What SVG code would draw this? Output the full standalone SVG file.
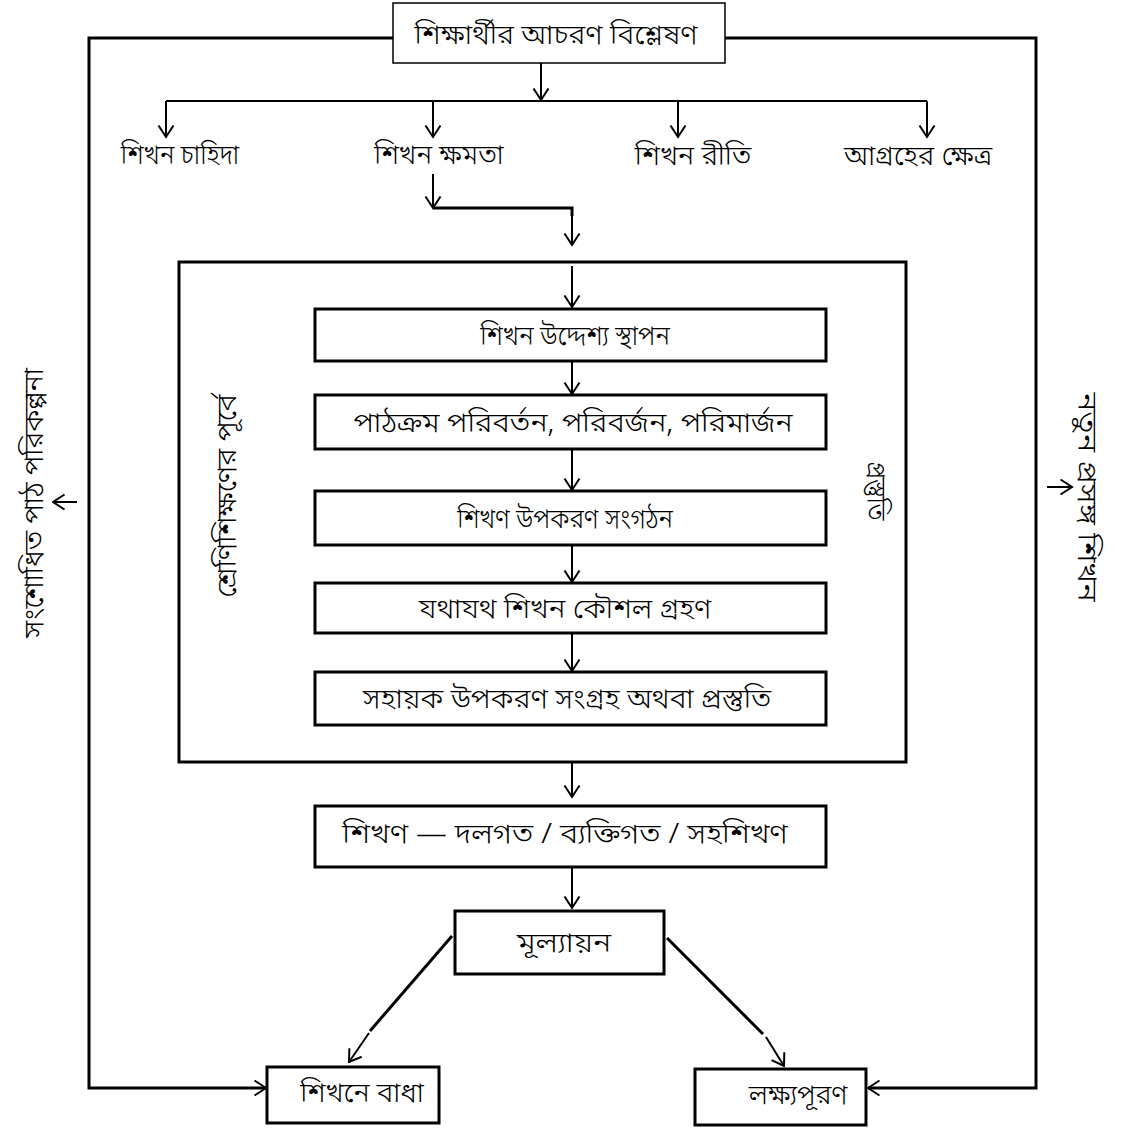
<svg xmlns="http://www.w3.org/2000/svg" width="1121" height="1128" viewBox="0 0 1121 1128">
<style>
text{font-family:"Noto Sans Bengali","Noto Serif Bengali","Lohit Bengali","FreeSans","Noto Sans",sans-serif;font-size:27px;font-weight:300;fill:#000;text-anchor:middle;dominant-baseline:central}
.lbl{font-size:28px}
.box{fill:#fff;stroke:#000;stroke-width:3}
.frame{fill:none;stroke:#000;stroke-width:3}
.thin{fill:#fff;stroke:#000;stroke-width:1.5}
.ln{fill:none;stroke:#000;stroke-width:2}
.lt{fill:none;stroke:#000;stroke-width:3}
</style>
<defs>
<marker id="ah" viewBox="0 0 14 18" refX="12.5" refY="9" markerWidth="14" markerHeight="18" markerUnits="userSpaceOnUse" orient="auto">
<path d="M1,1.5 L12.5,9 L1,16.5" fill="none" stroke="#000" stroke-width="2"/>
</marker>
</defs>
<rect width="1121" height="1128" fill="#fff"/>
<g id="connectors">
<path class="lt" d="M393,38 H89 V1088 H266" marker-end="url(#ah)"/>
<path class="lt" d="M725,38 H1036 V1088 H868" marker-end="url(#ah)"/>
<path class="ln" d="M541,63 V100" marker-end="url(#ah)"/>
<path class="ln" d="M166,101 H927"/>
<path class="ln" d="M166,101 V137" marker-end="url(#ah)"/>
<path class="ln" d="M433,101 V137" marker-end="url(#ah)"/>
<path class="ln" d="M678,101 V137" marker-end="url(#ah)"/>
<path class="ln" d="M927,101 V137" marker-end="url(#ah)"/>
<path class="ln" d="M433,174 V208" marker-end="url(#ah)"/>
<path class="lt" d="M433,208 H572 V216"/>
<path class="ln" d="M572,216 V245" marker-end="url(#ah)"/>
<path class="ln" d="M572,266 V307" marker-end="url(#ah)"/>
<path class="ln" d="M572,361 V394" marker-end="url(#ah)"/>
<path class="ln" d="M572,449 V490" marker-end="url(#ah)"/>
<path class="ln" d="M572,545 V582" marker-end="url(#ah)"/>
<path class="ln" d="M572,633 V671" marker-end="url(#ah)"/>
<path class="ln" d="M572,762 V797" marker-end="url(#ah)"/>
<path class="ln" d="M572,867 V908" marker-end="url(#ah)"/>
<path class="lt" d="M452,936 L370,1031"/>
<path class="ln" d="M369,1033 L349,1062" marker-end="url(#ah)"/>
<path class="lt" d="M667,938 L763,1034"/>
<path class="ln" d="M766,1037 L784,1066" marker-end="url(#ah)"/>
<path class="ln" d="M77,502 H53" marker-end="url(#ah)"/>
<path class="ln" d="M1047,487 H1072" marker-end="url(#ah)"/>
</g>
<g id="n-top"><rect class="thin" x="393" y="3" width="332" height="60"/><text transform="translate(556,37) scale(1.07,1)">শিক্ষার্থীর আচরণ বিশ্লেষণ</text></g>
<g id="n-need"><text class="lbl" transform="translate(180,157) scale(0.9,1)">শিখন চাহিদা</text></g>
<g id="n-ability"><text class="lbl" transform="translate(439,157) scale(0.97,1)">শিখন ক্ষমতা</text></g>
<g id="n-style"><text class="lbl" transform="translate(693,157)">শিখন রীতি</text></g>
<g id="n-interest"><text class="lbl" transform="translate(918,157)">আগ্রহের ক্ষেত্র</text></g>
<g id="n-prep"><rect class="frame" x="179" y="262" width="727" height="500"/>
<text transform="translate(229,496) rotate(-90) scale(1.08,1)">শ্রেণিশিক্ষণের পূর্বে</text>
<text transform="translate(874,491) rotate(90) scale(0.9,1)">প্রস্তুতি</text></g>
<g id="n-b1"><rect class="box" x="315" y="309" width="511" height="52"/><text transform="translate(575,338) scale(0.93,1)">শিখন উদ্দেশ্য স্থাপন</text></g>
<g id="n-b2"><rect class="box" x="315" y="395" width="511" height="54"/><text transform="translate(573,425) scale(1.1,1)">পাঠক্রম পরিবর্তন, পরিবর্জন, পরিমার্জন</text></g>
<g id="n-b3"><rect class="box" x="315" y="491" width="511" height="54"/><text transform="translate(565,521) scale(0.91,1)">শিখণ উপকরণ সংগঠন</text></g>
<g id="n-b4"><rect class="box" x="315" y="583" width="511" height="50"/><text transform="translate(565,611) scale(1.07,1)">যথাযথ শিখন  কৌশল গ্রহণ</text></g>
<g id="n-b5"><rect class="box" x="315" y="672" width="511" height="53"/><text transform="translate(567,701) scale(1.07,1)">সহায়ক উপকরণ সংগ্রহ অথবা প্রস্তুতি</text></g>
<g id="n-b6"><rect class="box" x="315" y="806" width="511" height="61"/><text transform="translate(565,836) scale(1.14,1)">শিখণ — দলগত / ব্যক্তিগত / সহশিখণ</text></g>
<g id="n-eval"><rect class="box" x="455" y="911" width="209" height="63"/><text transform="translate(564,945) scale(1.17,1)">মূল্যায়ন</text></g>
<g id="n-barrier"><rect class="box" x="267" y="1067" width="172" height="56"/><text transform="translate(362,1095) scale(1.04,1)">শিখনে বাধা</text></g>
<g id="n-goal"><rect class="box" x="695" y="1069" width="171" height="56"/><text transform="translate(798,1097)">লক্ষ্যপূরণ</text></g>
<g id="n-revised"><text class="lbl" transform="translate(36,503) rotate(-90) scale(1.01,1)">সংশোধিত পাঠ পরিকল্পনা</text></g>
<g id="n-new"><text class="lbl" transform="translate(1085,497) rotate(90) scale(1.15,1)">নতুন প্রসঙ্গ শিখন</text></g>
</svg>
